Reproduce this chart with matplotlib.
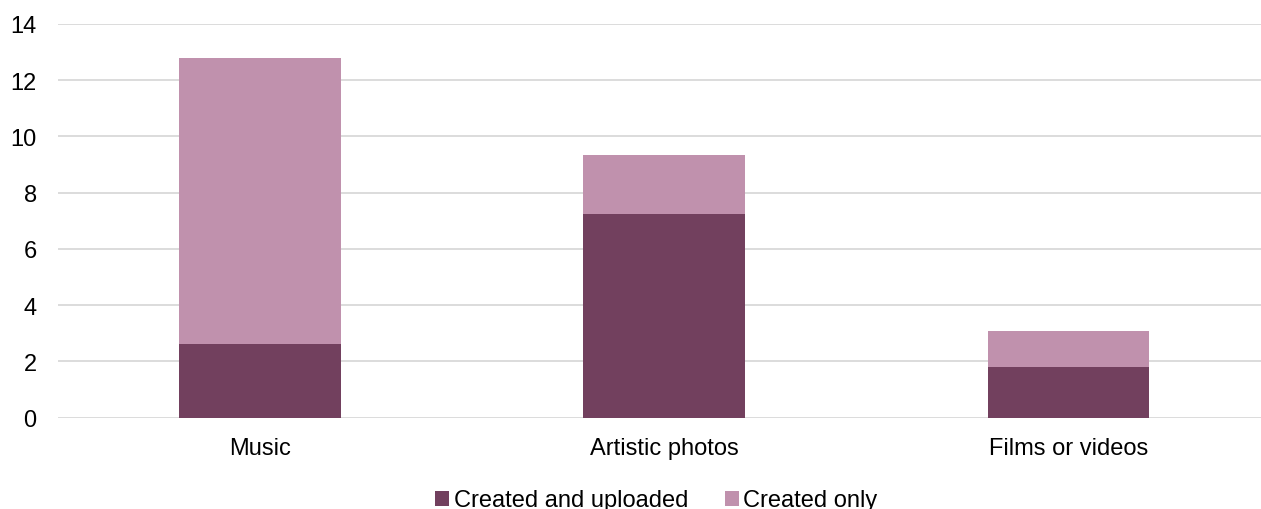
import numpy as np
import matplotlib.pyplot as plt

plt.rcParams['font.family'] = ['Liberation Sans', 'DejaVu Sans']

# Kategooriad ja väärtused
categories = ['Music', 'Artistic photos', 'Films or videos']
created_uploaded = [2.63, 7.24, 1.81]
created_only = [10.15, 2.11, 1.26]

dark = '#72405E'
light = '#C091AD'

fig = plt.figure(figsize=(12.61, 5.10), dpi=100)
ax = fig.add_axes([57.5 / 1261, 0.179, 1 - 57.5 / 1261, 0.7725])

x = np.arange(len(categories))
ax.bar(x, created_uploaded, width=0.4, color=dark, label='Created and uploaded', zorder=3)
ax.bar(x, created_only, width=0.4, bottom=created_uploaded, color=light,
       label='Created only', zorder=3)

ax.set_ylim(0, 14)
ax.set_yticks(range(0, 15, 2))
ax.set_xlim(-0.5, 2.476)
ax.set_xticks(x)
ax.set_xticklabels(categories)
ax.grid(axis='y', color='#D9D9D9', linewidth=1.3, zorder=0)
ax.tick_params(length=0, labelsize=17, colors='black')
ax.tick_params(axis='x', pad=14)
ax.tick_params(axis='y', pad=15)
for s in ax.spines.values():
    s.set_visible(False)

ax.legend(loc='center', bbox_to_anchor=(0.4975, -0.21), ncol=2,
          frameon=False, fontsize=17, handlelength=0.6, handleheight=0.6,
          handletextpad=0.2, columnspacing=1.55, borderpad=0)

plt.savefig('out.png', dpi=100)
plt.close()
